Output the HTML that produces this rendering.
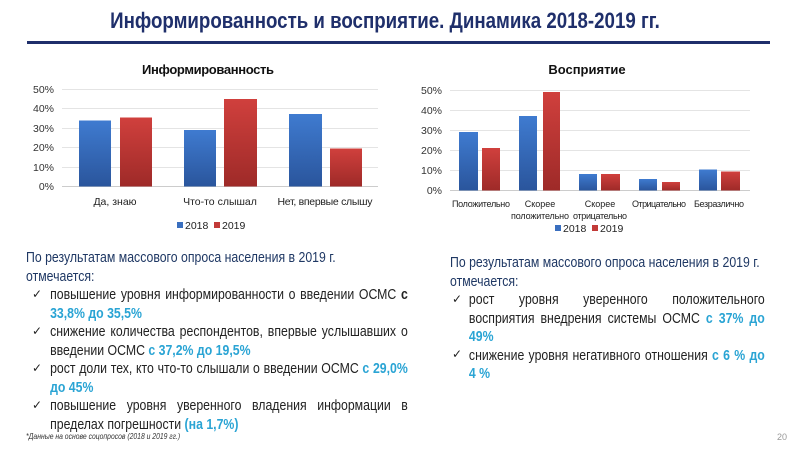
<!DOCTYPE html>
<html><head><meta charset="utf-8"><style>
body{margin:0;width:800px;height:450px;background:#fff;position:relative;overflow:hidden;font-family:"Liberation Sans",Arial,sans-serif}
.a{position:absolute;white-space:nowrap}
.t{position:absolute;font-size:14.3px;color:#222;line-height:18.5px;transform:scaleX(0.86);transform-origin:0 0;white-space:nowrap}
.l{text-align:justify;text-align-last:justify;white-space:nowrap}
.n{color:#1f3864}
.c{color:#2aa4d4;font-weight:bold}
.ck{position:absolute;font-size:12px;color:#222}
</style></head><body>
<div class="a" style="left:0;width:770px;text-align:center;top:8px;font-size:22px;font-weight:bold;color:#1f2f6b;transform:scaleX(0.85);transform-origin:385px 0">Информированность и восприятие. Динамика 2018-2019 гг.</div>
<div style="position:absolute;left:27px;top:41px;width:743px;height:3px;background:#1f2f6b"></div>

<svg width="800" height="450" style="position:absolute;left:0;top:0" font-family="Liberation Sans,Arial,sans-serif">
<defs>
<linearGradient id="b" x1="0" y1="0" x2="0" y2="1"><stop offset="0" stop-color="#3f7bd0"/><stop offset="1" stop-color="#2a559c"/></linearGradient>
<linearGradient id="r" x1="0" y1="0" x2="0" y2="1"><stop offset="0" stop-color="#d0403d"/><stop offset="1" stop-color="#9e2a28"/></linearGradient>
</defs>
<text x="208" y="74" font-size="13" font-weight="bold" text-anchor="middle" fill="#111" textLength="132">Информированность</text>
<g stroke="#e4e4e4" stroke-width="1">
<line x1="62" x2="378" y1="89.5" y2="89.5"/><line x1="62" x2="378" y1="108.5" y2="108.5"/><line x1="62" x2="378" y1="128.5" y2="128.5"/><line x1="62" x2="378" y1="147.5" y2="147.5"/><line x1="62" x2="378" y1="167.5" y2="167.5"/>
</g>
<line x1="62" x2="378" y1="186.5" y2="186.5" stroke="#ccc"/>
<g font-size="10.5" fill="#333" text-anchor="end">
<text x="54" y="93">50%</text><text x="54" y="112">40%</text><text x="54" y="132">30%</text><text x="54" y="151">20%</text><text x="54" y="171">10%</text><text x="54" y="190">0%</text></g>
<rect x="79" y="120.5" width="32" height="66" fill="url(#b)"/>
<rect x="120" y="117.5" width="32" height="69" fill="url(#r)"/>
<rect x="184" y="130" width="32" height="56.5" fill="url(#b)"/>
<rect x="224" y="99" width="33" height="87.5" fill="url(#r)"/>
<rect x="289" y="114" width="33" height="72.5" fill="url(#b)"/>
<rect x="330" y="148.5" width="32" height="38" fill="url(#r)"/>
<g font-size="10.5" fill="#222" text-anchor="middle">
<text x="115" y="205">Да, знаю</text><text x="220" y="205">Что-то слышал</text><text x="325" y="205" textLength="95">Нет, впервые слышу</text></g>
<rect x="177" y="222" width="6" height="6" fill="#3a6fbf"/><text x="185" y="229" font-size="10.5" fill="#222">2018</text>
<rect x="214" y="222" width="6" height="6" fill="#c23a38"/><text x="222" y="229" font-size="10.5" fill="#222">2019</text>

<text x="587" y="74" font-size="13" font-weight="bold" text-anchor="middle" fill="#111">Восприятие</text>
<g stroke="#e4e4e4" stroke-width="1">
<line x1="450" x2="750" y1="90.5" y2="90.5"/><line x1="450" x2="750" y1="110.5" y2="110.5"/><line x1="450" x2="750" y1="130.5" y2="130.5"/><line x1="450" x2="750" y1="150.5" y2="150.5"/><line x1="450" x2="750" y1="170.5" y2="170.5"/>
</g>
<line x1="450" x2="750" y1="190.5" y2="190.5" stroke="#ccc"/>
<g font-size="10.5" fill="#333" text-anchor="end">
<text x="442" y="94">50%</text><text x="442" y="114">40%</text><text x="442" y="134">30%</text><text x="442" y="154">20%</text><text x="442" y="174">10%</text><text x="442" y="194">0%</text></g>
<rect x="459" y="132" width="19" height="58.5" fill="url(#b)"/>
<rect x="482" y="148" width="18" height="42.5" fill="url(#r)"/>
<rect x="519" y="116" width="18" height="74.5" fill="url(#b)"/>
<rect x="543" y="92" width="17" height="98.5" fill="url(#r)"/>
<rect x="579" y="174" width="18" height="16.5" fill="url(#b)"/>
<rect x="601" y="174" width="19" height="16.5" fill="url(#r)"/>
<rect x="639" y="179" width="18" height="11.5" fill="url(#b)"/>
<rect x="662" y="182" width="18" height="8.5" fill="url(#r)"/>
<rect x="699" y="169.5" width="18" height="21" fill="url(#b)"/>
<rect x="721" y="171.5" width="19" height="19" fill="url(#r)"/>
<g font-size="9" fill="#222" text-anchor="middle">
<text x="481" y="207" textLength="58">Положительно</text><text x="540" y="207">Скорее</text><text x="540" y="219" textLength="58">положительно</text>
<text x="600" y="207">Скорее</text><text x="600" y="219" textLength="54">отрицательно</text>
<text x="659" y="207" textLength="54">Отрицательно</text><text x="719" y="207" textLength="50">Безразлично</text></g>
<rect x="555" y="225" width="6" height="6" fill="#3a6fbf"/><text x="563" y="232" font-size="10.5" fill="#222">2018</text>
<rect x="592" y="225" width="6" height="6" fill="#c23a38"/><text x="600" y="232" font-size="10.5" fill="#222">2019</text>
</svg>

<div class="t" style="left:26px;top:249px;width:444px">
<div class="n">По результатам массового опроса населения в 2019 г.</div>
<div class="n">отмечается:</div>
<div style="padding-left:28px">
<div class="l">повышение уровня информированности о введении ОСМС <b>с</b></div>
<div class="c">33,8% до 35,5%</div>
<div class="l">снижение количества респондентов, впервые услышавших о</div>
<div>введении ОСМС <span class="c">с 37,2% до 19,5%</span></div>
<div class="l">рост доли тех, кто что-то слышали о введении ОСМС <span class="c">с 29,0%</span></div>
<div class="c">до 45%</div>
<div class="l">повышение уровня уверенного владения информации в</div>
<div>пределах погрешности <span class="c">(на 1,7%)</span></div>
</div></div>
<div class="ck" style="left:32px;top:287px">✓</div>
<div class="ck" style="left:32px;top:324px">✓</div>
<div class="ck" style="left:32px;top:361px">✓</div>
<div class="ck" style="left:32px;top:398px">✓</div>

<div class="t" style="left:450px;top:254px;width:366px">
<div class="n">По результатам массового опроса населения в 2019 г.</div>
<div class="n">отмечается:</div>
<div style="padding-left:22px">
<div class="l">рост уровня уверенного положительного</div>
<div class="l">восприятия внедрения системы ОСМС <span class="c">с 37% до</span></div>
<div class="c">49%</div>
<div class="l">снижение уровня негативного отношения <span class="c">с 6 % до</span></div>
<div class="c">4 %</div>
</div></div>
<div class="ck" style="left:452px;top:292px">✓</div>
<div class="ck" style="left:452px;top:347px">✓</div>

<div class="a" style="left:26px;top:432px;font-size:8px;font-style:italic;color:#333;transform:scaleX(0.85);transform-origin:0 0">*Данные на основе соцопросов (2018 и 2019 гг.)</div>
<div class="a" style="left:777px;top:432px;font-size:9px;color:#999">20</div>
</body></html>
